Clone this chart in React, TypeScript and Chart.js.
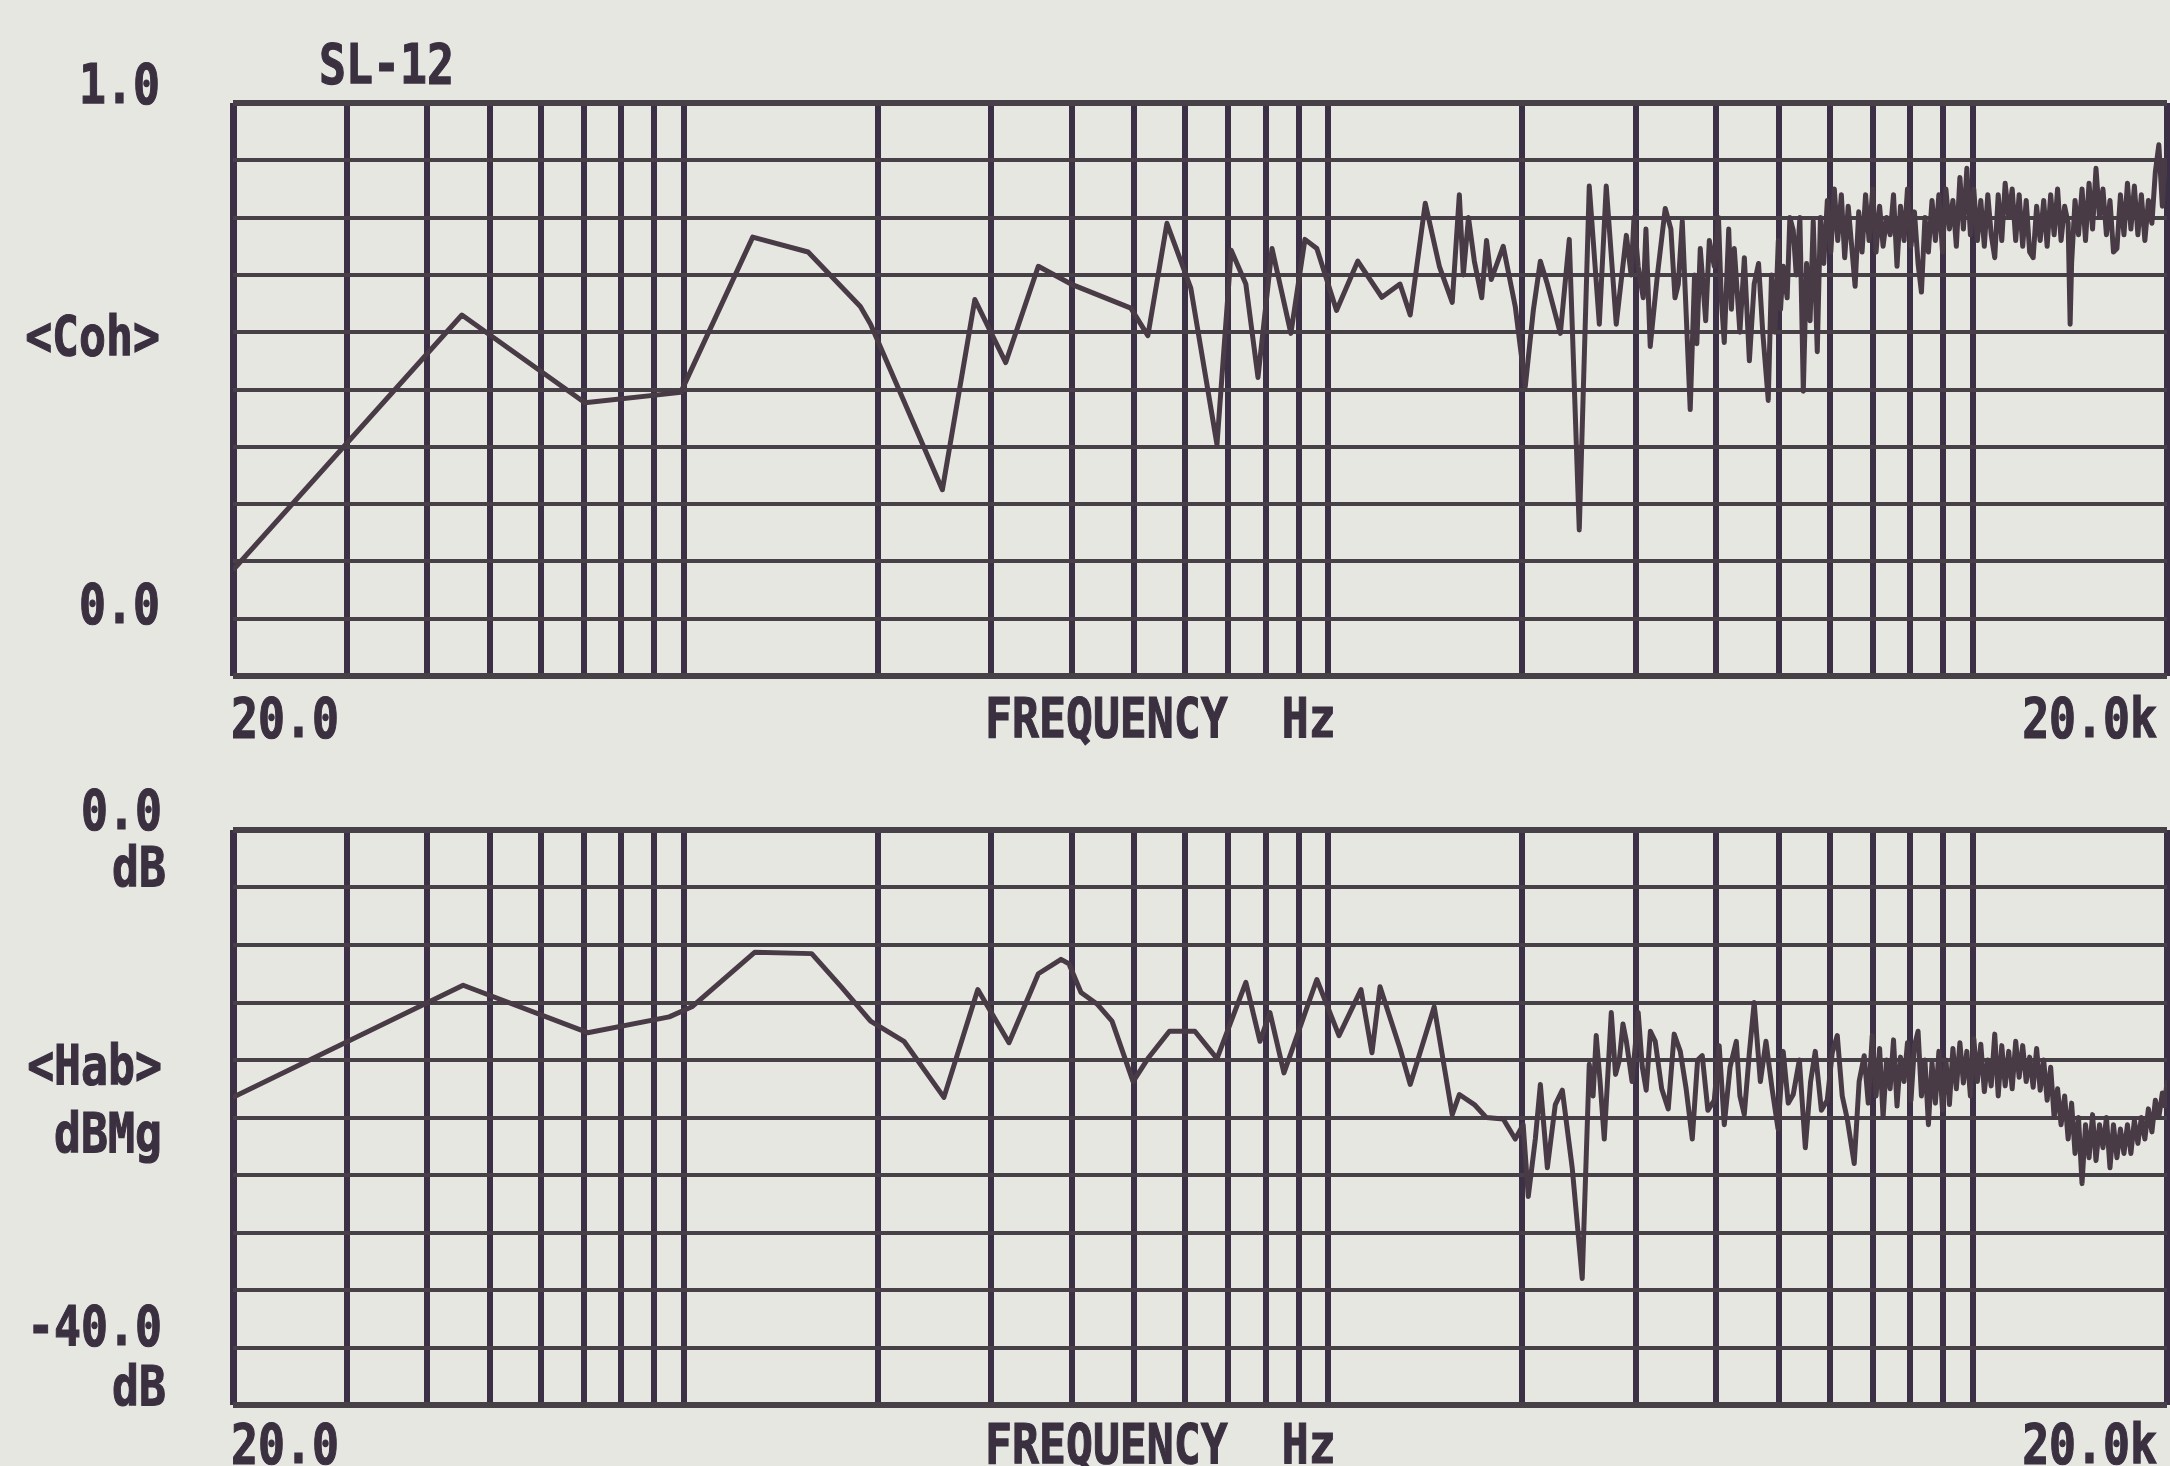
import React, { useEffect, useRef } from "react";
import { Chart, registerables } from "chart.js";

Chart.register(...registerables);

// ---------- page layout ----------
const PAGE_W = 2170;
const PAGE_H = 1466;
const TOP_H = 760;
const BOTTOM_H = PAGE_H - TOP_H;

const BG = "#e7e7e2";
const INK = "#483b46";
const V_GRID = "#3b3046";
const H_GRID = "#474147";
const TEXT = "#3a3040";

// ---------- data ----------
const gridFreqs = [
  20, 30, 40, 50, 60, 70, 80, 90, 100, 200, 300, 400, 500, 600, 700, 800, 900,
  1000, 2000, 3000, 4000, 5000, 6000, 7000, 8000, 9000, 10000, 20000,
];
const cohTicks = [0, 0.1, 0.2, 0.3, 0.4, 0.5, 0.6, 0.7, 0.8, 0.9, 1.0];
const habTicks = [-40, -36, -32, -28, -24, -20, -16, -12, -8, -4, 0];

// Coherence <Coh>, 20 Hz .. 1.5 kHz
const cohFreqLow = [
  20, 45.3, 70.3, 99, 128, 156, 188, 195, 252, 283,
  316, 355, 399, 494, 525, 562, 612, 672, 707, 745,
  778, 818, 875, 920, 960, 1030, 1111, 1211, 1292, 1340,
  1414, 1487,
];
const cohValuesLow = [
  0.185, 0.63, 0.477, 0.495, 0.766, 0.74, 0.645, 0.614, 0.325, 0.657,
  0.547, 0.715, 0.684, 0.642, 0.594, 0.79, 0.677, 0.404, 0.743, 0.684,
  0.521, 0.746, 0.598, 0.762, 0.746, 0.638, 0.724, 0.661, 0.684, 0.63,
  0.825, 0.715,
];
// Coherence <Coh>, 1.5 kHz .. 5.7 kHz
const cohFreqMid = [
  1557, 1597, 1620, 1650, 1685, 1730, 1760, 1790, 1868, 1950,
  2021, 2080, 2133, 2187, 2291, 2365, 2451, 2540, 2633, 2699,
  2797, 2900, 2950, 2980, 3025, 3080, 3110, 3158, 3240, 3332,
  3400, 3450, 3491, 3541, 3643, 3700, 3730, 3776, 3850, 3900,
  3970, 4030, 4070, 4114, 4180, 4220, 4264, 4350, 4420, 4500,
  4578, 4650, 4720, 4814, 4870, 4930, 4990, 5030, 5078, 5150,
  5200, 5263, 5320, 5390, 5456, 5520, 5590, 5653, 5735,
];
const cohValuesMid = [
  0.652, 0.84, 0.70, 0.80, 0.724, 0.66, 0.76, 0.692, 0.75, 0.645,
  0.505, 0.638, 0.724, 0.684, 0.598, 0.762, 0.255, 0.855, 0.614, 0.855,
  0.614, 0.769, 0.70, 0.80, 0.715, 0.66, 0.78, 0.575, 0.70, 0.816,
  0.78, 0.66, 0.684, 0.794, 0.465, 0.70, 0.58, 0.746, 0.62, 0.76,
  0.715, 0.80, 0.66, 0.582, 0.78, 0.64, 0.746, 0.60, 0.73, 0.55,
  0.684, 0.72, 0.60, 0.481, 0.70, 0.60, 0.76, 0.64, 0.715, 0.66,
  0.80, 0.778, 0.70, 0.80, 0.497, 0.72, 0.62, 0.794, 0.566,
];
// Coherence <Coh>, 5.8 kHz .. 20 kHz (dense band)
const cohFreqHigh = [
  5800, 5870, 5945, 6020, 6095, 6170, 6250, 6325, 6405, 6485,
  6565, 6650, 6730, 6815, 6900, 6990, 7075, 7165, 7255, 7345,
  7440, 7530, 7625, 7720, 7820, 7915, 8015, 8115, 8220, 8320,
  8425, 8530, 8640, 8745, 8855, 8970, 9080, 9195, 9310, 9425,
  9545, 9665, 9785, 9910, 10030, 10160, 10285, 10415, 10545, 10675,
  10810, 10945, 11085, 11220, 11365, 11505, 11650, 11795, 11945, 12095,
  12245, 12400, 12555, 12715, 12875, 13035, 13200, 13365, 13530, 13700,
  13875, 14050, 14150, 14225, 14400, 14580, 14765, 14950, 15140, 15330,
  15520, 15715, 15910, 16110, 16315, 16520, 16725, 16935, 17150, 17365,
  17580, 17800, 18025, 18250, 18480, 18715, 18950, 19185, 19425, 19670,
  19850, 20000,
];
const cohValuesHigh = [
  0.80, 0.72, 0.83, 0.74, 0.85, 0.76, 0.84, 0.73, 0.82, 0.75,
  0.68, 0.81, 0.74, 0.84, 0.76, 0.85, 0.74, 0.82, 0.75, 0.80,
  0.77, 0.84, 0.715, 0.82, 0.76, 0.85, 0.75, 0.81, 0.72, 0.67,
  0.80, 0.74, 0.83, 0.76, 0.84, 0.74, 0.85, 0.78, 0.83, 0.75,
  0.87, 0.78, 0.886, 0.77, 0.85, 0.76, 0.83, 0.75, 0.84, 0.77,
  0.73, 0.84, 0.76, 0.86, 0.80, 0.85, 0.76, 0.84, 0.75, 0.83,
  0.74, 0.73, 0.82, 0.76, 0.83, 0.75, 0.84, 0.77, 0.85, 0.76,
  0.82, 0.79, 0.614, 0.72, 0.83, 0.77, 0.85, 0.76, 0.86, 0.78,
  0.886, 0.80, 0.85, 0.77, 0.83, 0.74, 0.746, 0.84, 0.77, 0.86,
  0.78, 0.855, 0.77, 0.84, 0.76, 0.83, 0.79, 0.88, 0.927, 0.82,
  0.90, 0.87,
];

// Transfer magnitude <Hab> dBMg, 20 Hz .. 1.4 kHz
const habFreqLow = [
  20, 45.5, 71, 95, 103, 129, 158, 175.5, 195, 219.7,
  253.4, 286, 319.7, 355, 385, 396, 413.5, 437.8, 461.9, 498,
  525, 567, 621, 672, 745, 783.5, 812, 853.6, 960, 1039,
  1124, 1169, 1203, 1292, 1340,
];
const habValuesLow = [
  -18.6, -10.8, -14.1, -13.0, -12.3, -8.5, -8.6, -10.9, -13.3, -14.7,
  -18.6, -11.1, -14.8, -10.0, -9.0, -9.3, -11.3, -12.1, -13.3, -17.5,
  -15.9, -14.0, -14.0, -15.9, -10.6, -14.7, -12.7, -16.9, -10.4, -14.3,
  -11.1, -15.5, -10.9, -15.2, -17.7,
];
// Transfer magnitude <Hab> dBMg, 1.4 kHz .. 7 kHz
const habFreqMid = [
  1460, 1557, 1597, 1685, 1758, 1868, 1950, 2006, 2043, 2095,
  2133, 2187, 2250, 2307, 2390, 2477, 2540, 2575, 2604, 2640,
  2680, 2748, 2790, 2828, 2865, 2900, 2960, 3025, 3070, 3113,
  3160, 3215, 3290, 3368, 3440, 3516, 3590, 3670, 3740, 3803,
  3880, 3970, 4040, 4114, 4200, 4295, 4350, 4419, 4500, 4578,
  4680, 4775, 4880, 4985, 5078, 5170, 5263, 5380, 5495, 5600,
  5694, 5820, 5943, 6050, 6160, 6270, 6383, 6544, 6660, 6782,
  6880, 6979,
];
const habValuesMid = [
  -12.3, -19.8, -18.4, -19.1, -20.0, -20.1, -21.5, -20.5, -25.5, -21.5,
  -17.7, -23.5, -19.1, -18.1, -23.5, -31.2, -16.3, -18.5, -14.3, -17.5,
  -21.5, -12.7, -17.0, -16.0, -13.5, -14.7, -17.5, -12.7, -16.5, -18.1,
  -14.0, -14.7, -18.0, -19.4, -14.2, -15.4, -18.0, -21.5, -16.0, -15.7,
  -19.5, -18.8, -15.0, -20.5, -16.5, -14.7, -18.5, -19.8, -15.5, -12.0,
  -17.5, -14.7, -18.0, -20.8, -15.4, -19.0, -18.4, -16.0, -22.1, -17.5,
  -15.4, -19.5, -18.8, -15.5, -14.3, -18.5, -20.1, -23.2, -17.5, -15.7,
  -19.0, -14.3,
];
// Transfer magnitude <Hab> dBMg, 7 kHz .. 20 kHz (dense band)
const habFreqHigh = [
  7075, 7165, 7255, 7345, 7440, 7530, 7625, 7720, 7820, 7915,
  8015, 8115, 8220, 8320, 8425, 8530, 8640, 8745, 8855, 8970,
  9080, 9195, 9310, 9425, 9545, 9665, 9785, 9910, 10030, 10160,
  10285, 10415, 10545, 10675, 10810, 10945, 11085, 11220, 11365, 11505,
  11650, 11795, 11945, 12095, 12245, 12400, 12555, 12715, 12875, 13035,
  13200, 13365, 13530, 13700, 13875, 14050, 14225, 14400, 14580, 14765,
  14950, 15140, 15330, 15520, 15715, 15910, 16110, 16315, 16520, 16725,
  16935, 17150, 17365, 17580, 17800, 18025, 18250, 18480, 18715, 18950,
  19185, 19425, 19670, 19850, 20000,
];
const habValuesHigh = [
  -18.5, -15.2, -20.0, -16.0, -18.0, -14.6, -19.2, -15.8, -17.5, -14.8,
  -18.8, -15.0, -14.0, -18.5, -16.0, -20.5, -16.2, -19.0, -15.4, -19.5,
  -16.0, -19.1, -15.2, -18.0, -14.8, -17.6, -15.4, -18.5, -14.5, -17.5,
  -14.9, -18.2, -16.0, -17.8, -14.2, -18.5, -15.0, -17.8, -15.4, -18.0,
  -14.7, -17.2, -15.0, -17.5, -15.8, -17.9, -15.2, -18.1, -16.0, -18.8,
  -16.5, -20.0, -18.0, -20.5, -18.5, -21.5, -19.0, -22.5, -20.0, -24.6,
  -20.5, -22.8, -19.8, -23.0, -20.5, -22.1, -20.0, -23.5, -20.5, -22.8,
  -20.8, -22.5, -20.5, -22.5, -20.2, -21.8, -20.0, -21.5, -19.4, -21.0,
  -18.8, -20.0, -18.3, -19.2, -17.4,
];

// ---------- text ----------
const titleText = "SL-12";
const cohAxisText = ["1.0", "<Coh>", "0.0"];
const habAxisText = ["0.0", "dB", "<Hab>", "dBMg", "-40.0", "dB"];
const xAxisText = ["20.0", "FREQUENCY  Hz", "20.0k"];

type Label = { text: string; x: number; y: number; align: "left" | "right" };

const topLabels: Label[] = [
  { text: titleText, x: 319, y: 83, align: "left" },
  { text: cohAxisText[0], x: 160, y: 103, align: "right" },
  { text: cohAxisText[1], x: 160, y: 355, align: "right" },
  { text: cohAxisText[2], x: 160, y: 623, align: "right" },
  { text: xAxisText[0], x: 231, y: 737, align: "left" },
  { text: xAxisText[1], x: 985, y: 737, align: "left" },
  { text: xAxisText[2], x: 2157, y: 737, align: "right" },
];
const bottomLabels: Label[] = [
  { text: habAxisText[0], x: 162, y: 69, align: "right" },
  { text: habAxisText[1], x: 166, y: 126, align: "right" },
  { text: habAxisText[2], x: 162, y: 324, align: "right" },
  { text: habAxisText[3], x: 162, y: 392, align: "right" },
  { text: habAxisText[4], x: 162, y: 585, align: "right" },
  { text: habAxisText[5], x: 166, y: 645, align: "right" },
  { text: xAxisText[0], x: 231, y: 703, align: "left" },
  { text: xAxisText[1], x: 985, y: 703, align: "left" },
  { text: xAxisText[2], x: 2157, y: 703, align: "right" },
];

const H_SCALE = 0.8;
const FONT = 'bold 56px "DejaVu Sans Mono", "Liberation Mono", monospace';

function labelPlugin(labels: Label[]) {
  return {
    id: "plotLabels",
    afterDraw(chart: any) {
      const ctx = chart.ctx as CanvasRenderingContext2D;
      ctx.save();
      ctx.fillStyle = TEXT;
      ctx.strokeStyle = TEXT;
      ctx.lineWidth = 1.2;
      ctx.font = FONT;
      ctx.textBaseline = "alphabetic";
      ctx.textAlign = "left";
      for (const l of labels) {
        const w = ctx.measureText(l.text).width * H_SCALE;
        const x0 = l.align === "right" ? l.x - w : l.x;
        ctx.save();
        ctx.translate(x0, l.y);
        ctx.scale(H_SCALE, 1);
        ctx.fillText(l.text, 0, 0);
        ctx.strokeText(l.text, 0, 0);
        ctx.restore();
      }
      ctx.restore();
    },
  };
}

function toPoints(freqs: number[], vals: number[]) {
  const n = Math.min(freqs.length, vals.length);
  const out: { x: number; y: number }[] = [];
  for (let i = 0; i < n; i++) out.push({ x: freqs[i], y: vals[i] });
  return out;
}

function xScale() {
  return {
    type: "logarithmic",
    min: 20,
    max: 20000,
    afterBuildTicks: (s: any) => {
      s.ticks = gridFreqs.map((v) => ({ value: v }));
    },
    afterFit: (s: any) => {
      s.height = 0;
    },
    ticks: { display: false },
    border: { display: false },
    grid: {
      color: V_GRID,
      lineWidth: (c: any) => (c.index === 0 || c.index === gridFreqs.length - 1 ? 7 : 6),
      drawTicks: false,
      tickLength: 0,
    },
  };
}

function yScale(min: number, max: number, ticks: number[]) {
  return {
    type: "linear",
    min,
    max,
    afterBuildTicks: (s: any) => {
      s.ticks = ticks.map((v) => ({ value: v }));
    },
    afterFit: (s: any) => {
      s.width = 0;
    },
    ticks: { display: false },
    border: { display: false },
    grid: {
      color: H_GRID,
      lineWidth: (c: any) => (c.index === 0 || c.index === ticks.length - 1 ? 6 : 4),
      drawTicks: false,
      tickLength: 0,
    },
  };
}

function makeConfig(data: { x: number; y: number }[], yOpts: any, padding: any, labels: Label[]) {
  return {
    type: "line",
    data: {
      datasets: [
        {
          data,
          borderColor: INK,
          borderWidth: 5,
          pointRadius: 0,
          tension: 0,
          fill: false,
          borderJoinStyle: "round",
        },
      ],
    },
    options: {
      animation: false,
      responsive: false,
      devicePixelRatio: 1,
      layout: { padding },
      plugins: { legend: { display: false }, tooltip: { enabled: false } },
      scales: { x: xScale(), y: yOpts },
    },
    plugins: [labelPlugin(labels)],
  } as any;
}

export default function App() {
  const topRef = useRef<HTMLCanvasElement>(null);
  const botRef = useRef<HTMLCanvasElement>(null);

  useEffect(() => {
    document.body.style.background = BG;
    const cohData = toPoints(cohFreqLow, cohValuesLow)
      .concat(toPoints(cohFreqMid, cohValuesMid))
      .concat(toPoints(cohFreqHigh, cohValuesHigh));
    const habData = toPoints(habFreqLow, habValuesLow)
      .concat(toPoints(habFreqMid, habValuesMid))
      .concat(toPoints(habFreqHigh, habValuesHigh));
    const c1 = new Chart(
      topRef.current as HTMLCanvasElement,
      makeConfig(cohData, yScale(0, 1, cohTicks), { left: 233, right: 3, top: 103, bottom: TOP_H - 676 }, topLabels)
    );
    const c2 = new Chart(
      botRef.current as HTMLCanvasElement,
      makeConfig(habData, yScale(-40, 0, habTicks), { left: 233, right: 3, top: 70, bottom: BOTTOM_H - 645 }, bottomLabels)
    );
    return () => {
      c1.destroy();
      c2.destroy();
    };
  }, []);

  return (
    <div
      style={{
        position: "absolute",
        left: 0,
        top: 0,
        width: PAGE_W,
        height: PAGE_H,
        background: BG,
        overflow: "hidden",
      }}
    >
      <canvas
        ref={topRef}
        width={PAGE_W}
        height={TOP_H}
        style={{ position: "absolute", left: 0, top: 0, width: PAGE_W, height: TOP_H }}
      />
      <canvas
        ref={botRef}
        width={PAGE_W}
        height={BOTTOM_H}
        style={{ position: "absolute", left: 0, top: TOP_H, width: PAGE_W, height: BOTTOM_H }}
      />
    </div>
  );
}
